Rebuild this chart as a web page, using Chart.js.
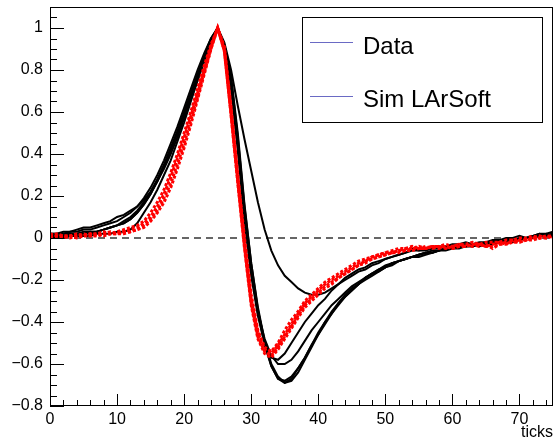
<!DOCTYPE html>
<html>
<head>
<meta charset="utf-8">
<script src="https://cdn.jsdelivr.net/npm/chart.js@4.4.1/dist/chart.umd.min.js"></script>
<style>
  html, body { margin: 0; padding: 0; background: #fff; }
</style>
</head>
<body>
<canvas id="chart" width="555" height="443"></canvas>
<script>
// sample ticks 0..75
const sampleTicks = Array.from({ length: 76 }, (_, i) => i);

// measured pulses (black)
const dataWaves = [
  [0.02,0.02,0.03,0.03,0.04,0.05,0.05,0.06,0.07,0.08,
   0.10,0.11,0.13,0.15,0.18,0.22,0.27,0.33,0.40,0.48,
   0.57,0.66,0.75,0.84,0.93,1.00,
   0.93,0.80,0.63,0.47,0.32,0.17,0.04,-0.06,-0.13,-0.18,
   -0.21,-0.24,-0.26,-0.27,-0.27,-0.26,-0.24,-0.22,-0.20,-0.18,
   -0.16,-0.15,-0.13,-0.12,-0.10,-0.09,-0.08,-0.07,-0.05,-0.06,
   -0.06,-0.05,-0.05,-0.04,-0.04,-0.04,-0.03,-0.03,-0.03,-0.02,
   -0.03,-0.02,-0.02,-0.01,-0.01,0.00,0.00,0.01,0.01,0.02],
  [0.01,0.01,0.01,0.02,0.02,0.02,0.03,0.03,0.04,0.05,
   0.06,0.08,0.10,0.13,0.17,0.22,0.28,0.35,0.43,0.51,
   0.60,0.69,0.78,0.87,0.95,1.00,
   0.91,0.74,0.45,0.12,-0.15,-0.36,-0.51,-0.61,-0.67,-0.69,
   -0.67,-0.62,-0.57,-0.51,-0.45,-0.40,-0.35,-0.31,-0.27,-0.24,
   -0.22,-0.19,-0.17,-0.15,-0.14,-0.12,-0.11,-0.10,-0.09,-0.08,
   -0.07,-0.07,-0.06,-0.06,-0.05,-0.05,-0.04,-0.04,-0.03,-0.04,
   -0.03,-0.02,-0.02,-0.01,-0.01,0.00,0.00,0.01,0.01,0.02],
  [0.01,0.00,0.01,0.01,0.02,0.02,0.02,0.03,0.04,0.05,
   0.06,0.07,0.09,0.12,0.16,0.21,0.27,0.34,0.42,0.50,
   0.59,0.68,0.77,0.86,0.94,1.00,
   0.92,0.76,0.48,0.15,-0.12,-0.33,-0.49,-0.60,-0.66,-0.69,
   -0.68,-0.64,-0.58,-0.52,-0.46,-0.41,-0.36,-0.32,-0.28,-0.25,
   -0.22,-0.20,-0.18,-0.16,-0.14,-0.13,-0.11,-0.10,-0.09,-0.09,
   -0.08,-0.07,-0.06,-0.05,-0.05,-0.04,-0.04,-0.03,-0.04,-0.03,
   -0.03,-0.02,-0.01,-0.02,-0.01,0.00,0.01,0.01,0.02,0.01],
  [0.01,0.01,0.00,0.01,0.01,0.01,0.01,0.02,0.02,0.02,
   0.03,0.03,0.04,0.07,0.12,0.17,0.23,0.30,0.37,0.46,
   0.55,0.65,0.75,0.85,0.94,1.00,
   0.92,0.77,0.50,0.16,-0.12,-0.34,-0.50,-0.61,-0.67,-0.68,
   -0.66,-0.62,-0.57,-0.51,-0.46,-0.40,-0.36,-0.31,-0.28,-0.25,
   -0.22,-0.19,-0.17,-0.16,-0.14,-0.12,-0.11,-0.10,-0.09,-0.08,
   -0.07,-0.06,-0.06,-0.05,-0.05,-0.04,-0.03,-0.04,-0.03,-0.02,
   -0.02,-0.02,-0.01,-0.01,0.00,0.00,0.01,0.02,0.01,0.02],
  [0.02,0.02,0.02,0.03,0.03,0.04,0.04,0.05,0.06,0.07,
   0.08,0.10,0.12,0.15,0.19,0.24,0.30,0.37,0.45,0.53,
   0.62,0.71,0.80,0.88,0.95,1.00,
   0.90,0.72,0.43,0.10,-0.16,-0.35,-0.48,-0.56,-0.60,-0.60,
   -0.58,-0.54,-0.49,-0.44,-0.40,-0.36,-0.32,-0.29,-0.26,-0.23,
   -0.21,-0.19,-0.17,-0.15,-0.13,-0.12,-0.11,-0.10,-0.09,-0.08,
   -0.07,-0.07,-0.06,-0.05,-0.05,-0.04,-0.04,-0.03,-0.03,-0.03,
   -0.02,-0.02,-0.02,-0.01,-0.01,0.00,0.00,0.01,0.01,0.01],
  [0.01,0.01,0.02,0.02,0.02,0.03,0.03,0.03,0.04,0.05,
   0.06,0.07,0.09,0.12,0.16,0.21,0.27,0.34,0.42,0.50,
   0.59,0.68,0.77,0.86,0.94,1.00,
   0.90,0.72,0.42,0.08,-0.18,-0.37,-0.50,-0.57,-0.58,-0.55,
   -0.50,-0.45,-0.40,-0.36,-0.32,-0.29,-0.25,-0.22,-0.19,-0.17,
   -0.15,-0.14,-0.12,-0.11,-0.10,-0.09,-0.08,-0.07,-0.06,-0.06,
   -0.05,-0.05,-0.04,-0.04,-0.03,-0.03,-0.02,-0.03,-0.02,-0.02,
   -0.01,-0.01,0.00,0.00,0.01,0.00,0.01,0.02,0.02,0.03]
];

// simulated pulses (red)
const simWaves = [
  [0.01,0.01,0.00,0.01,0.01,0.01,0.02,0.01,0.02,0.02,
   0.02,0.03,0.03,0.04,0.06,0.09,0.13,0.19,0.26,0.35,
   0.45,0.56,0.67,0.79,0.90,1.00,
   0.90,0.61,0.29,-0.02,-0.29,-0.45,-0.53,-0.55,-0.51,-0.46,
   -0.41,-0.36,-0.31,-0.28,-0.25,-0.22,-0.20,-0.18,-0.16,-0.14,
   -0.12,-0.11,-0.09,-0.08,-0.07,-0.07,-0.06,-0.05,-0.05,-0.04,
   -0.05,-0.04,-0.05,-0.04,-0.05,-0.04,-0.04,-0.03,-0.04,-0.03,
   -0.05,-0.03,-0.02,-0.02,-0.01,-0.01,0.00,0.00,0.01,0.00],
  [0.02,0.01,0.01,0.00,0.01,0.02,0.01,0.01,0.02,0.03,
   0.02,0.03,0.04,0.05,0.07,0.10,0.15,0.21,0.29,0.38,
   0.48,0.58,0.69,0.80,0.91,1.00,
   0.89,0.59,0.27,-0.04,-0.31,-0.47,-0.54,-0.56,-0.52,-0.47,
   -0.42,-0.37,-0.32,-0.29,-0.26,-0.23,-0.21,-0.19,-0.17,-0.15,
   -0.13,-0.11,-0.10,-0.09,-0.08,-0.07,-0.06,-0.06,-0.05,-0.05,
   -0.04,-0.05,-0.04,-0.04,-0.05,-0.04,-0.03,-0.04,-0.03,-0.04,
   -0.04,-0.03,-0.03,-0.02,-0.02,-0.01,-0.01,0.00,0.00,0.01],
  [0.00,0.01,0.01,0.01,0.00,0.01,0.01,0.02,0.01,0.02,
   0.02,0.02,0.03,0.04,0.05,0.08,0.12,0.17,0.24,0.33,
   0.43,0.54,0.66,0.78,0.90,1.00,
   0.91,0.62,0.30,0.00,-0.27,-0.44,-0.52,-0.54,-0.50,-0.44,
   -0.39,-0.35,-0.30,-0.27,-0.24,-0.21,-0.19,-0.17,-0.15,-0.13,
   -0.11,-0.10,-0.09,-0.08,-0.07,-0.06,-0.05,-0.05,-0.04,-0.05,
   -0.05,-0.04,-0.04,-0.05,-0.04,-0.03,-0.04,-0.03,-0.03,-0.04,
   -0.03,-0.02,-0.03,-0.01,-0.02,-0.01,0.00,0.01,0.00,0.01],
  [0.01,0.02,0.01,0.01,0.02,0.01,0.02,0.02,0.03,0.02,
   0.03,0.04,0.05,0.06,0.08,0.12,0.17,0.23,0.31,0.40,
   0.50,0.60,0.71,0.82,0.92,1.00,
   0.89,0.58,0.26,-0.05,-0.32,-0.48,-0.55,-0.57,-0.53,-0.48,
   -0.43,-0.38,-0.33,-0.30,-0.27,-0.24,-0.22,-0.19,-0.17,-0.15,
   -0.13,-0.12,-0.10,-0.09,-0.08,-0.07,-0.07,-0.06,-0.06,-0.05,
   -0.05,-0.04,-0.04,-0.03,-0.04,-0.03,-0.03,-0.02,-0.03,-0.02,
   -0.02,-0.02,-0.01,-0.01,0.00,0.00,0.01,0.00,0.01,0.01]
];

const legendLabels = ['Data', 'Sim LArSoft'];
const xAxisTitle = 'ticks';

const FONT = "'Liberation Sans', Arial, Helvetica, sans-serif";

// ROOT style frame, inward ticks, zero line and legend box
const rootStyle = {
  id: 'rootStyle',
  beforeDatasetsDraw(chart) {
    const { ctx, chartArea: a, scales: { y } } = chart;
    const py = Math.round(y.getPixelForValue(0));
    ctx.save();
    ctx.strokeStyle = '#666';
    ctx.lineWidth = 2;
    ctx.setLineDash([7, 5]);
    ctx.beginPath();
    ctx.moveTo(a.left, py);
    ctx.lineTo(a.right, py);
    ctx.stroke();
    ctx.restore();
  },
  afterDatasetsDraw(chart) {
    const { ctx, chartArea: a, scales: { x, y } } = chart;
    ctx.save();
    ctx.strokeStyle = '#000';
    ctx.lineWidth = 1;
    ctx.strokeRect(a.left + 0.5, a.top + 0.5, a.right - a.left - 1, a.bottom - a.top - 1);

    ctx.beginPath();
    for (let i = -16; i <= 22; i++) {
      const py = Math.round(y.getPixelForValue(i * 0.05)) + 0.5;
      const len = i % 4 === 0 ? 14 : 7;
      ctx.moveTo(a.left, py);
      ctx.lineTo(a.left + len, py);
    }
    for (let t = 0; t <= 75; t += 2) {
      const px = Math.round(x.getPixelForValue(t)) + 0.5;
      const len = t % 10 === 0 ? 12 : 6;
      ctx.moveTo(px, a.bottom);
      ctx.lineTo(px, a.bottom - len);
    }
    ctx.stroke();

    // legend
    const bx = 302, by = 17, bw = 240, bh = 105;
    ctx.fillStyle = '#fff';
    ctx.fillRect(bx, by, bw, bh);
    ctx.strokeStyle = '#000';
    ctx.strokeRect(bx + 0.5, by + 0.5, bw, bh);
    ctx.font = '24px ' + FONT;
    ctx.textBaseline = 'alphabetic';
    ctx.fillStyle = '#000';
    legendLabels.forEach((label, i) => {
      const ly = 42 + i * 54;
      ctx.strokeStyle = '#6a6ac4';
      ctx.beginPath();
      ctx.moveTo(310, ly + 0.5);
      ctx.lineTo(353, ly + 0.5);
      ctx.stroke();
      ctx.fillText(label, 363, 54 + i * 53);
    });
    ctx.restore();
  }
};

const datasets = [];
simWaves.forEach(w => datasets.push({
  data: w,
  borderColor: '#ff0000',
  borderWidth: 3,
  borderDash: [3, 2],
  pointRadius: 0,
  tension: 0
}));
dataWaves.forEach(w => datasets.push({
  data: w,
  borderColor: '#000000',
  borderWidth: 2,
  pointRadius: 0,
  tension: 0
}));

new Chart(document.getElementById('chart'), {
  type: 'line',
  data: { labels: sampleTicks, datasets },
  options: {
    responsive: false,
    animation: false,
    devicePixelRatio: 1,
    layout: { padding: { top: 7, right: 2, left: 0, bottom: 0 } },
    plugins: { legend: { display: false }, tooltip: { enabled: false } },
    scales: {
      x: {
        type: 'linear',
        min: 0,
        max: 75,
        afterFit(s) { s.height = 37; s.paddingLeft = 0; s.paddingRight = 0; },
        grid: { display: false, drawTicks: false },
        border: { display: false },
        ticks: {
          stepSize: 10,
          includeBounds: false,
          maxRotation: 0,
          padding: 4,
          color: '#000',
          font: { family: FONT, size: 16 }
        },
        title: {
          display: true,
          text: xAxisTitle,
          align: 'end',
          color: '#000',
          font: { family: FONT, size: 16 },
          padding: { top: 0, bottom: 1 }
        }
      },
      y: {
        min: -0.8,
        max: 1.1,
        afterFit(s) { s.width = 50; s.paddingTop = 0; s.paddingBottom = 0; },
        grid: { display: false, drawTicks: false },
        border: { display: false },
        ticks: {
          stepSize: 0.2,
          includeBounds: false,
          padding: 7,
          color: '#000',
          font: { family: FONT, size: 16 },
          callback: v => String(Math.round(v * 10) / 10).replace('-', '\u2212')
        }
      }
    }
  },
  plugins: [rootStyle]
});
</script>
</body>
</html>
